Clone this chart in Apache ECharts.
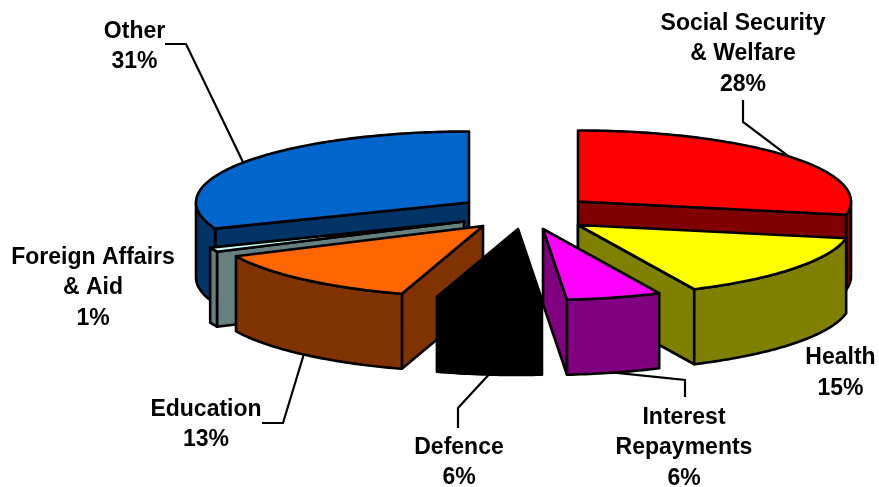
<!DOCTYPE html>
<html><head><meta charset="utf-8">
<style>html,body{margin:0;padding:0;background:#fff}#c{width:879px;height:487px}</style>
<script src="https://cdn.jsdelivr.net/npm/echarts@6/dist/echarts.min.js"></script>
</head><body><div id="c"></div>
<script>
// Data (clockwise from 12 o'clock)
const categories = ['Social Security\n& Welfare','Health','Interest\nRepayments','Defence','Education','Foreign Affairs\n& Aid','Other'];
const shareValues = [28, 15, 5.6, 6.2, 13.2, 1, 31];
// Styles
const topColors  = ['#FF0000','#FFFF00','#FF00FF','#000000','#FF6600','#CCFFFF','#0066CC'];
const sideColors = ['#800000','#808000','#800080','#000000','#803300','#668080','#003366'];
// Layout
const apexX = [578, 578, 543, 518, 483, 464, 469];
const apexY = [201.5, 225, 229, 229, 226, 221.5, 202.5];
const labelX = [743, 840.5, 684, 459, 206, 93, 134.5];
const labelY = [23.5, 358, 417.5, 447.5, 409.5, 257.5, 31.5];
const leaderRoutes = [[[743,100],[743,122]],null,[[685,397],[685,380]],[[458,428],[458,408]],[[262,423],[283,423]],null,[[165,44],[186,44]]];
const paintOrder = [6, 0, 5, 4, 1, 2, 3];
const RX = 273, RY = 71, DEPTH = 75, LINE = 2.6;

const total = shareValues.reduce((a,b)=>a+b,0);
const startAngle = [], endAngle = [];
shareValues.reduce((acc,v,i)=>{startAngle[i]=acc/total*360;endAngle[i]=(acc+v)/total*360;return acc+v;},0);
const rad = d => d*Math.PI/180;
const rim = (i,deg,drop=0) => [apexX[i]+RX*Math.sin(rad(deg)), apexY[i]-RY*Math.cos(rad(deg))+drop];
function arc(i,a,b,drop){const n=Math.max(2,Math.ceil(Math.abs(b-a)));const p=[];for(let k=0;k<=n;k++)p.push(rim(i,a+(b-a)*k/n,drop));return p;}
function face(api,pts,fill,z2){
  return {type:'polygon',z2,shape:{points:pts.map(p=>api.coord(p))},
    style:{fill,stroke:'#000',lineWidth:LINE,lineJoin:'round'}};
}
function renderSlice(params,api){
  const i = paintOrder[params.dataIndex], a=startAngle[i], b=endAngle[i], ch=[];
  const base = params.dataIndex*10;
  const A=[apexX[i],apexY[i]], Ad=[A[0],A[1]+DEPTH];
  if(Math.sin(rad(a))<-1e-6) ch.push(face(api,[A,rim(i,a),rim(i,a,DEPTH),Ad],sideColors[i],base+1));
  if(Math.sin(rad(b))>1e-6)  ch.push(face(api,[A,rim(i,b),rim(i,b,DEPTH),Ad],sideColors[i],base+1));
  const lo=Math.max(a,90), hi=Math.min(b,270);
  if(hi>lo) ch.push(face(api,arc(i,lo,hi,0).concat(arc(i,hi,lo,DEPTH)),sideColors[i],base+2));
  ch.push(face(api,[A].concat(arc(i,a,b,0)),topColors[i],base+3));
  return {type:'group',children:ch};
}
function renderLabel(params,api){
  const i=params.dataIndex, ch=[];
  const pct=Math.round(shareValues[i]);
  const lines=(categories[i]+'\n'+pct+'%').split('\n');
  lines.forEach((t,k)=>{
    const c=api.coord([labelX[i],labelY[i]+k*30.6]);
    ch.push({type:'text',z2:200,style:{text:t,x:c[0],y:c[1],align:'center',verticalAlign:'middle',
      fill:'#000',font:'bold 23px "Liberation Sans", Arial, sans-serif'}});
  });
  if(leaderRoutes[i]){
    const mid=(startAngle[i]+endAngle[i])/2;
    const anchor=rim(i,mid,Math.cos(rad(mid))<0?DEPTH:0);
    ch.push({type:'polyline',z2:100,shape:{points:leaderRoutes[i].concat([anchor]).map(p=>api.coord(p))},
      style:{fill:null,stroke:'#000',lineWidth:2.2}});
  }
  return {type:'group',children:ch};
}
const chart=echarts.init(document.getElementById('c'),null,{renderer:'canvas'});
chart.setOption({
  animation:false,backgroundColor:'#fff',
  grid:{left:0,right:0,top:0,bottom:0},
  xAxis:{type:'value',min:0,max:879,show:false},
  yAxis:{type:'value',min:0,max:487,inverse:true,show:false},
  series:[
    {type:'custom',name:'slices',clip:false,silent:true,renderItem:renderSlice,encode:{x:0,y:1},
     data:paintOrder.map(i=>[apexX[i],apexY[i],shareValues[i]])},
    {type:'custom',name:'labels',clip:false,silent:true,renderItem:renderLabel,encode:{x:0,y:1},z:3,
     data:categories.map((c,i)=>[labelX[i],labelY[i],shareValues[i]])}
  ]
});
</script></body></html>
